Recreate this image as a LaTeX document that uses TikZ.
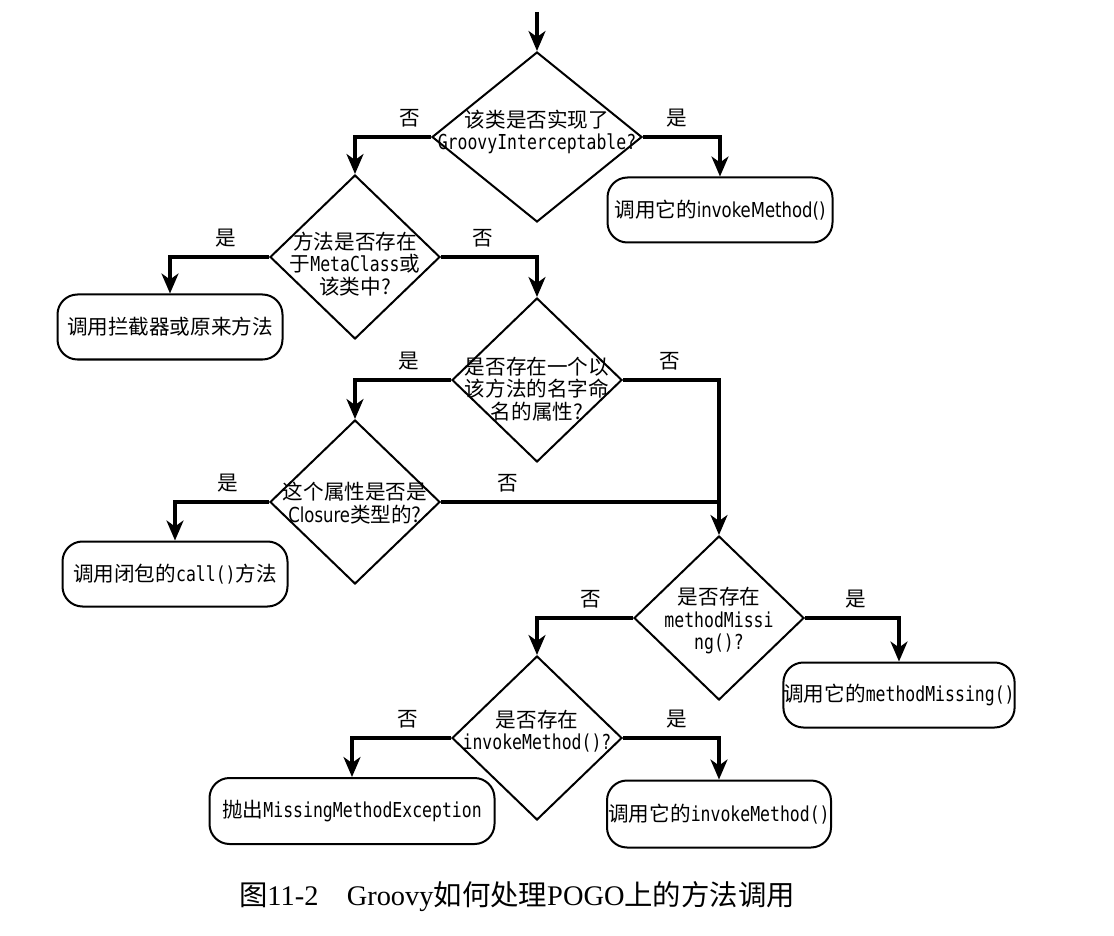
\documentclass[tikz,border=0pt]{standalone}
\usepackage{fontspec}
\setmainfont{Liberation Serif}
\newfontfamily\cjk{Noto Sans CJK SC}
\newfontfamily\code{DejaVu Sans Mono}[FakeStretch=0.8]
\newfontfamily\sans{DejaVu Sans}[FakeStretch=0.8]
\usetikzlibrary{shapes.geometric}
\usetikzlibrary{arrows.meta}

\begin{document}
\begin{tikzpicture}[x=0.5pt,y=-0.5pt,
  >={Stealth[length=10pt,width=8.5pt,inset=3pt]},
  every node/.style={font=\cjk\fontsize{10.3pt}{11.25pt}\selectfont},
  decision/.style={draw,line width=1pt,diamond,aspect=1,inner sep=0pt,minimum width=85pt,minimum height=82pt},
  action/.style={draw,line width=1pt,rounded corners=10pt,inner sep=0pt,minimum width=112.5pt,minimum height=32.5pt},
  qtext/.style={align=center,inner sep=0pt},
  flow/.style={line width=1.6pt},
  answer/.style={above=3pt,inner sep=1pt,pos=.22}]
\useasboundingbox (0,0) rectangle (1114,936);

\coordinate (start) at (537,12);
\node [decision,minimum width=105pt,minimum height=85pt] (d1) at (537,137) {};
\node [qtext] (q1) at (537,132) {该类是否实现了\\{\code GroovyInterceptable?}};
\node [action] (a1) at (720,210) {调用它的{\sans invokeMethod()}};

\node [decision] (d2) at (355,257) {};
\node [qtext] (q2) at (355,264) {方法是否存在\\于{\code MetaClass}或\\该类中?};
\node [action] (a2) at (170,327) {调用拦截器或原来方法};

\node [decision] (d3) at (537,380) {};
\node [qtext] (q3) at (537,389) {是否存在一个以\\该方法的名字命\\名的属性?};

\node [decision] (d4) at (355,502) {};
\node [qtext] (q4) at (355,503) {这个属性是否是\\{\sans Closure}类型的?};
\node [action] (a3) at (175,574) {调用闭包的{\code call()}方法};

\node [decision] (d5) at (719,618) {};
\node [qtext] (q5) at (719,621) {是否存在\\{\code methodMissi}\\{\code ng()?}};
\node [action,minimum width=111pt] (a4) at (899,695) {调用它的{\code methodMissing()}};

\node [decision] (d6) at (537,738) {};
\node [qtext] (q6) at (537,731) {是否存在\\{\code invokeMethod()?}};
\node [action,minimum width=142.5pt,minimum height=33pt] (a5) at (352,811) {抛出{\code MissingMethodException}};
\node [action,minimum width=112pt,minimum height=33.5pt] (a6) at (719,814) {调用它的{\code invokeMethod()}};

\node [font=\rmfamily\fontsize{14.2pt}{16pt}\selectfont] (cap) at (517,897) {{\cjk 图}11-2\quad Groovy{\cjk 如何处理}POGO{\cjk 上的方法调用}};

\draw [flow] [->] (start) -- (d1.north);
\draw [flow] [->] (d1.west) -| node [answer,pos=.14] (n1) {否} (d2.north);
\draw [flow] [->] (d1.east) -| node [answer] (y1) {是} (a1.north);
\draw [flow] [->] (d2.west) -| node [answer] (y2) {是} (a2.north);
\draw [flow] [->] (d2.east) -| node [answer] (n2) {否} (d3.north);
\draw [flow] [->] (d3.west) -| node [answer] (y3) {是} (d4.north);
\draw [flow] [->] (d3.east) -| node [answer,pos=.245] (n3) {否} (d5.north);
\draw [flow] [->] (d4.west) -| node [answer] (y4) {是} (a3.north);
\coordinate (join) at (d4.east -| d5.north);
\draw [flow] (d4.east) -- node [answer,pos=.24] (n4) {否} (join);
\draw [flow] [->] (d5.west) -| node [answer] (n5) {否} (d6.north);
\draw [flow] [->] (d5.east) -| node [answer,pos=.27] (y5) {是} (a4.north);
\draw [flow] [->] (d6.west) -| node [answer] (n6) {否} (a5.north);
\draw [flow] [->] (d6.east) -| node [answer,pos=.28] (y6) {是} (a6.north);
\end{tikzpicture}
\end{document}
